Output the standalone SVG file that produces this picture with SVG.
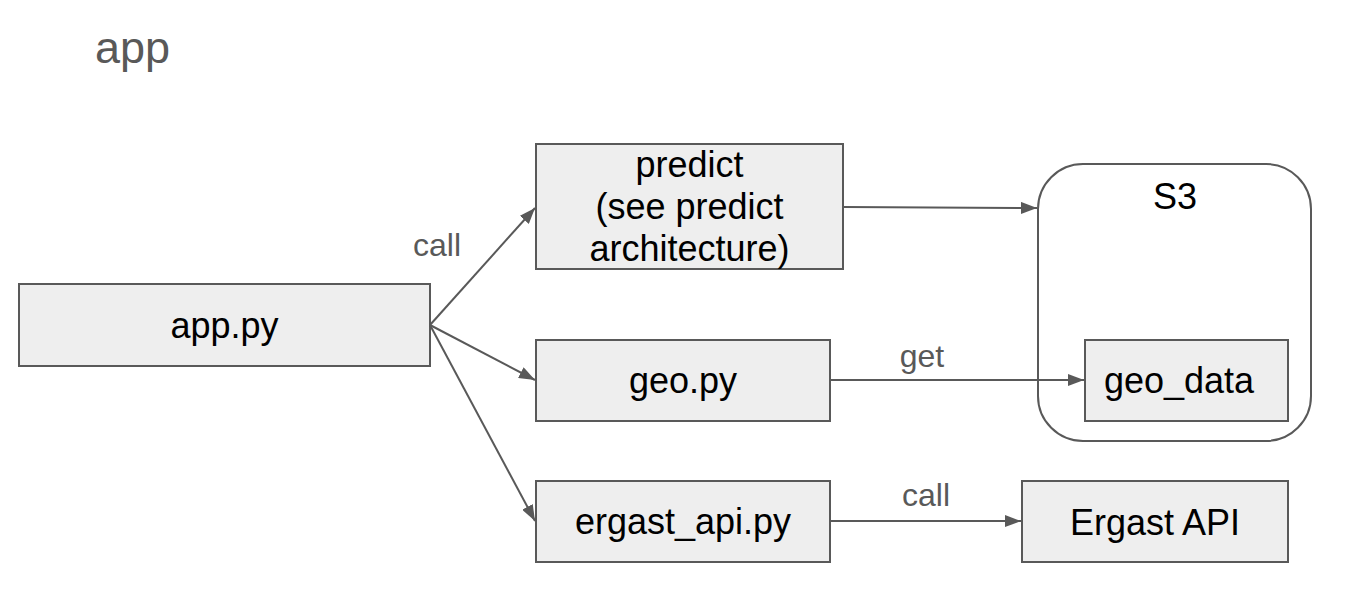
<svg xmlns="http://www.w3.org/2000/svg" width="1348" height="592" viewBox="0 0 1348 592">
<style>
.box{fill:#eeeeee;stroke:#595959;stroke-width:2}
.grp{fill:none;stroke:#595959;stroke-width:2}
.t{font-family:"Liberation Sans",Arial,sans-serif;font-size:36px;fill:#000;text-anchor:middle}
.lbl{font-family:"Liberation Sans",Arial,sans-serif;font-size:32px;fill:#595959;text-anchor:middle}
.ttl{font-family:"Liberation Sans",Arial,sans-serif;font-size:45px;fill:#595959}
.edge{fill:none;stroke:#595959;stroke-width:2}
</style>
<defs>
<marker id="arr" viewBox="0 0 16 12" refX="16" refY="6" markerWidth="16" markerHeight="12" markerUnits="userSpaceOnUse" orient="auto">
<path d="M0,0 L16,6 L0,12 z" fill="#595959"/>
</marker>
</defs>
<rect width="1348" height="592" fill="#fff"/>
<text class="ttl" x="95" y="63">app</text>
<g id="s3">
<rect class="grp" x="1038" y="164" width="273" height="277" rx="45" ry="45"/>
<text class="t" x="1175" y="209">S3</text>
</g>
<g id="app_py">
<rect class="box" x="19" y="284" width="411" height="82"/>
<text class="t" x="224.5" y="338">app.py</text>
</g>
<g id="predict">
<rect class="box" x="536" y="144" width="307" height="125"/>
<text class="t" x="689.5" y="177">predict</text>
<text class="t" x="689.5" y="219">(see predict</text>
<text class="t" x="689.5" y="261">architecture)</text>
</g>
<g id="geo_py">
<rect class="box" x="536" y="340" width="294" height="81"/>
<text class="t" x="683" y="393">geo.py</text>
</g>
<g id="ergast_api_py">
<rect class="box" x="536" y="481" width="294" height="81"/>
<text class="t" x="683" y="534">ergast_api.py</text>
</g>
<g id="geo_data">
<rect class="box" x="1085" y="340" width="203" height="81"/>
<text class="t" x="1179" y="393">geo_data</text>
</g>
<g id="ergast_api">
<rect class="box" x="1022" y="481" width="266" height="81"/>
<text class="t" x="1155" y="535">Ergast API</text>
</g>
<g id="connectors">
<line class="edge" x1="430" y1="325" x2="535" y2="208" marker-end="url(#arr)"/>
<line class="edge" x1="430" y1="325" x2="535" y2="380" marker-end="url(#arr)"/>
<line class="edge" x1="430" y1="325" x2="535" y2="521" marker-end="url(#arr)"/>
<line class="edge" x1="844" y1="207" x2="1037" y2="208" marker-end="url(#arr)"/>
<line class="edge" x1="831" y1="380" x2="1084" y2="380" marker-end="url(#arr)"/>
<line class="edge" x1="831" y1="521" x2="1021" y2="521" marker-end="url(#arr)"/>
<text class="lbl" x="437" y="256">call</text>
<text class="lbl" x="922" y="367">get</text>
<text class="lbl" x="926" y="506">call</text>
</g>
</svg>
